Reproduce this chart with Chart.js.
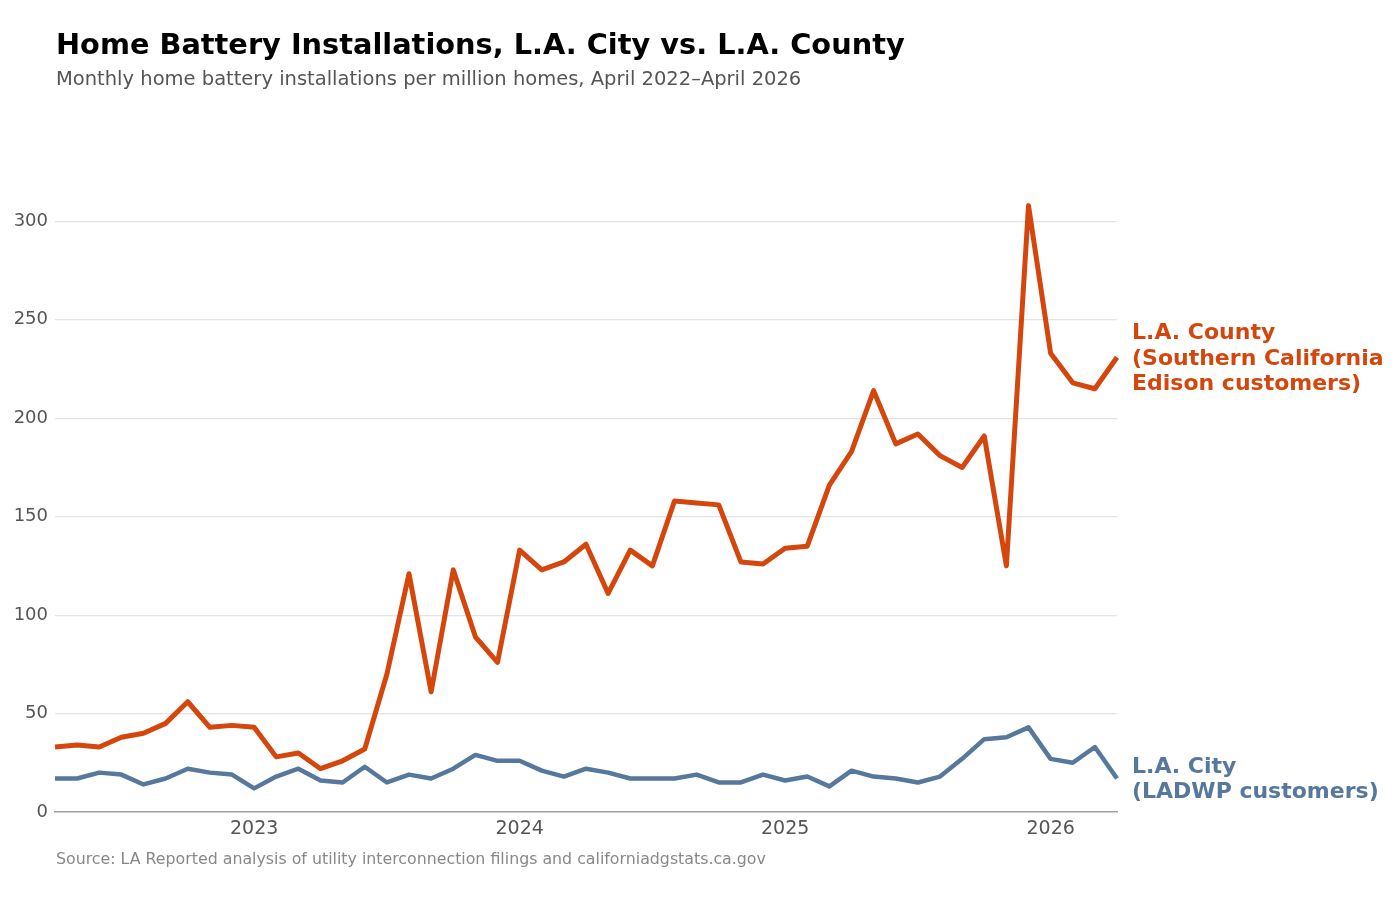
<!DOCTYPE html>
<html>
<head>
<meta charset="utf-8">
<script src="https://cdn.jsdelivr.net/npm/chart.js@4"></script>
<style>
  html, body { margin: 0; padding: 0; background: #fff; }
  body { width: 1400px; height: 900px; position: relative; overflow: hidden; font-family: "DejaVu Sans", sans-serif; }
  #title { position: absolute; left: 56px; top: 27px; font-size: 28.8px; font-weight: bold; color: #000; white-space: nowrap; }
  #subtitle { position: absolute; left: 56px; top: 67px; font-size: 19.5px; color: #555; white-space: nowrap; }
  #source { position: absolute; left: 56px; top: 849px; font-size: 15.8px; color: #888; white-space: nowrap; }
  #wrap { position: absolute; left: 0; top: 0; width: 1400px; height: 900px; }
</style>
</head>
<body>
<div id="wrap"><canvas id="batteryChart"></canvas></div>
<div id="title">Home Battery Installations, L.A. City vs. L.A. County</div>
<div id="subtitle">Monthly home battery installations per million homes, April 2022–April 2026</div>
<div id="source">Source: LA Reported analysis of utility interconnection filings and californiadgstats.ca.gov</div>
<script>
// months April 2022 .. April 2026
const months = [
    '2022-04', '2022-05', '2022-06', '2022-07', '2022-08', '2022-09', '2022-10', '2022-11', '2022-12',
    '2023-01', '2023-02', '2023-03', '2023-04', '2023-05', '2023-06', '2023-07', '2023-08', '2023-09', '2023-10', '2023-11', '2023-12',
    '2024-01', '2024-02', '2024-03', '2024-04', '2024-05', '2024-06', '2024-07', '2024-08', '2024-09', '2024-10', '2024-11', '2024-12',
    '2025-01', '2025-02', '2025-03', '2025-04', '2025-05', '2025-06', '2025-07', '2025-08', '2025-09', '2025-10', '2025-11', '2025-12',
    '2026-01', '2026-02', '2026-03', '2026-04'
];

const countySCE = [
    33, 34, 33, 38, 40, 45, 56, 43, 44,
    43, 28, 30, 22, 26, 32, 70, 121, 61, 123, 89, 76,
    133, 123, 127, 136, 111, 133, 125, 158, 157, 156, 127, 126,
    134, 135, 166, 183, 214, 187, 192, 181, 175, 191, 125, 308,
    233, 218, 215, 231
];

const cityLADWP = [
    17, 17, 20, 19, 14, 17, 22, 20, 19,
    12, 18, 22, 16, 15, 23, 15, 19, 17, 22, 29, 26,
    26, 21, 18, 22, 20, 17, 17, 17, 19, 15, 15, 19,
    16, 18, 13, 21, 18, 17, 15, 18, 27, 37, 38, 43,
    27, 25, 33, 17
];

const yTicks = [0, 50, 100, 150, 200, 250, 300];

const countyColor = '#d4460c';
const cityColor = '#56789c';

// end-of-line labels, centred on each series' last value
const endLabels = {
    id: 'endLabels',
    afterDatasetsDraw(chart) {
        const c = chart.ctx;
        const y = chart.scales.y;
        const x = chart.chartArea.right + 15;
        const lineH = 25.5;
        c.save();
        c.font = 'bold 22px "DejaVu Sans"';
        c.textBaseline = 'middle';
        c.textAlign = 'left';
        chart.data.datasets.forEach(ds => {
            const last = ds.data[ds.data.length - 1];
            const lines = ds.endLabel;
            const cy = y.getPixelForValue(last) + ds.labelShift;
            const top = cy - (lines.length - 1) * lineH / 2;
            c.fillStyle = ds.borderColor;
            lines.forEach((t, i) => c.fillText(t, x, top + i * lineH));
        });
        c.restore();
    }
};

const ctx = document.getElementById('batteryChart').getContext('2d');
new Chart(ctx, {
    type: 'line',
    data: {
        labels: months,
        datasets: [
            {
                label: 'L.A. County (Southern California Edison customers)',
                endLabel: ['L.A. County', '(Southern California', 'Edison customers)'],
                labelShift: 2,
                data: countySCE,
                borderColor: countyColor,
                borderWidth: 5,
                borderJoinStyle: 'round',
                pointRadius: 0,
                tension: 0,
                fill: false
            },
            {
                label: 'L.A. City (LADWP customers)',
                endLabel: ['L.A. City', '(LADWP customers)'],
                labelShift: 1,
                data: cityLADWP,
                borderColor: cityColor,
                borderWidth: 4.5,
                borderJoinStyle: 'round',
                pointRadius: 0,
                tension: 0,
                fill: false
            }
        ]
    },
    options: {
        responsive: true,
        maintainAspectRatio: false,
        animation: false,
        layout: {
            padding: { left: 0, right: 283, top: 182, bottom: 48 }
        },
        plugins: {
            legend: { display: false },
            tooltip: { enabled: false }
        },
        scales: {
            x: {
                type: 'category',
                offset: false,
                grid: { display: false, drawTicks: false },
                border: { display: true, color: '#a0a0a0', width: 1.5 },
                ticks: {
                    autoSkip: false,
                    maxRotation: 0,
                    padding: 6,
                    color: '#555',
                    font: { family: 'DejaVu Sans', size: 19 },
                    callback: function (val) {
                        const m = this.getLabelForValue(val);
                        return m.endsWith('-01') ? m.slice(0, 4) : '';
                    }
                },
                afterFit: s => { s.height = 40; }
            },
            y: {
                min: 0,
                max: 320,
                afterBuildTicks: s => { s.ticks = yTicks.map(v => ({ value: v })); },
                grid: {
                    color: ctx => ctx.tick && ctx.tick.value === 0 ? 'rgba(0,0,0,0)' : '#e3e3e3',
                    lineWidth: 1.2,
                    drawTicks: false
                },
                border: { display: false },
                ticks: {
                    padding: 7,
                    color: '#555',
                    font: { family: 'DejaVu Sans', size: 18 }
                },
                afterFit: s => { s.width = 55; }
            }
        }
    },
    plugins: [endLabels]
});
</script>
</body>
</html>
